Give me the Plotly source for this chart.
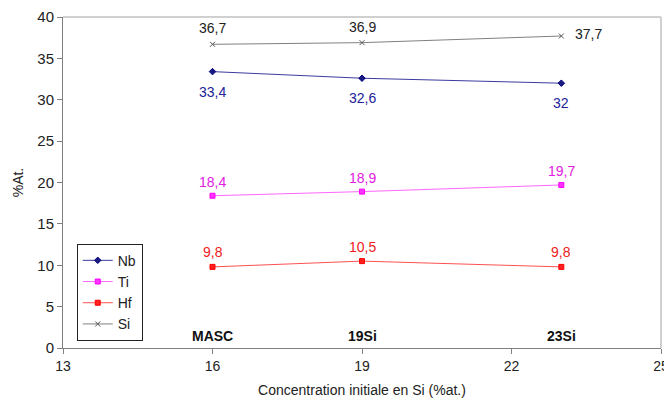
import plotly.graph_objects as go

x_vals = [16, 19, 23]
categories = ["MASC", "19Si", "23Si"]
nb = [33.4, 32.6, 32.0]
ti = [18.4, 18.9, 19.7]
hf = [9.8, 10.5, 9.8]
si = [36.7, 36.9, 37.7]

def fmt(v):
    s = ("%g" % v).replace(".", ",")
    return s

FONT = "Liberation Sans, Arial, sans-serif"

fig = go.Figure()

# name, values, marker fill, marker line, line colour, symbol, label colour, label offsets (dx, dy) per point
series = [
    ("Nb", nb, "#1a1a80", "#000080", "#3a3aa0", "diamond", "#22229a", [(0, -20), (0, -20), (0, -20)]),
    ("Ti", ti, "#ff33ff", "#ff00ff", "#ff66ff", "square", "#e020e0", [(0, 14), (0, 14), (0, 14)]),
    ("Hf", hf, "#ff2020", "#ff0000", "#ff5050", "square", "#ee2020", [(0, 15), (0, 14), (0, 15)]),
    ("Si", si, "#555555", "#555555", "#808080", "x-thin", "#222222", [(0, 16), (0, 16), (27, 2)]),
]

for name, vals, mcol, mline, lcol, sym, tcol, offs in series:
    fig.add_trace(go.Scatter(
        x=x_vals, y=vals, name=name,
        mode="lines+markers",
        line=dict(color=lcol, width=1),
        marker=dict(symbol=sym, size=5, color=mcol,
                    line=dict(color=mline, width=1)),
        cliponaxis=False,
    ))
    for xv, v, (dx, dy) in zip(x_vals, vals, offs):
        fig.add_annotation(x=xv, y=v, text=fmt(v), showarrow=False,
                           xshift=dx, yshift=dy,
                           font=dict(family=FONT, size=14, color=tcol))

for xv, cat in zip(x_vals, categories):
    fig.add_annotation(x=xv, y=0, yanchor="bottom", yshift=2, text="<b>%s</b>" % cat,
                       showarrow=False, font=dict(family=FONT, size=14, color="#111111"))

# light frame top/right
fig.add_shape(type="line", xref="paper", yref="paper", x0=0, x1=1, y0=1, y1=1,
              line=dict(color="#d0d0d0", width=2))
fig.add_shape(type="line", xref="paper", yref="paper", x0=1, x1=1, y0=0, y1=1,
              line=dict(color="#d0d0d0", width=2))

fig.update_layout(
    width=664, height=402,
    margin=dict(l=55, r=11, t=9, b=62),
    paper_bgcolor="white", plot_bgcolor="white",
    font=dict(family=FONT, size=14, color="#222222"),
    showlegend=True,
    legend=dict(x=0.023, y=0.315, xanchor="left", yanchor="top",
                bordercolor="#222222", borderwidth=1, bgcolor="white",
                font=dict(family=FONT, size=14, color="#222222"),
                itemwidth=30, tracegroupgap=0),
    xaxis=dict(range=[13, 25], tickvals=[13, 16, 19, 22, 25], showgrid=False, zeroline=False,
               showline=True, linecolor="#808080", linewidth=1, automargin=False,
               ticks="outside", ticklen=5, tickcolor="#808080", ticklabeloverflow="allow",
               tickfont=dict(family=FONT, size=14, color="#222222"),
               title=dict(text="Concentration initiale en Si (%at.)", standoff=12,
                          font=dict(family=FONT, size=14, color="#222222"))),
    yaxis=dict(range=[0, 40], tickvals=list(range(0, 41, 5)), showgrid=False, zeroline=False,
               showline=True, linecolor="#808080", linewidth=1, automargin=False,
               ticks="outside", ticklen=5, tickcolor="#808080", ticklabeloverflow="allow",
               tickfont=dict(family=FONT, size=15, color="#222222"),
               title=dict(text="%At.", standoff=10,
                          font=dict(family=FONT, size=14, color="#222222"))),
)

fig.write_html("out.html")
